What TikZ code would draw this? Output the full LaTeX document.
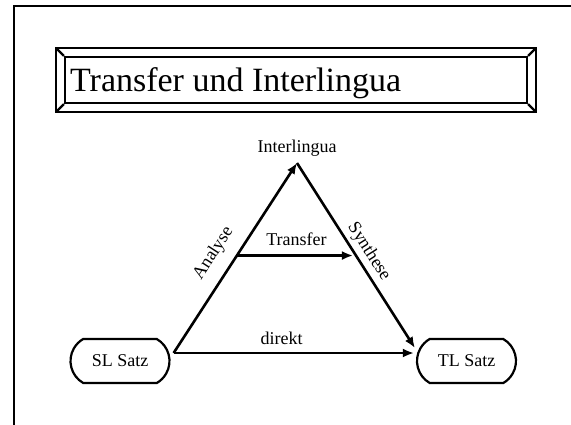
\documentclass[tikz,border=0pt]{standalone}
\usepackage{fontspec}
\setmainfont{Liberation Serif}
\usetikzlibrary{%
  arrows.meta,%
  shapes.misc,% wg. rounded rectangle
  positioning,%
  calc%
}

\begin{document}
\begin{tikzpicture}[
  x=1pt, y=-1pt, line width=2.2pt, >={Latex[length=11pt,width=9pt]}, draw=black,
  font=\fontsize{18}{20}\selectfont,
  satz/.style={rounded rectangle, rounded rectangle arc length=120, minimum width=99pt, minimum height=44pt, draw=black, inner sep=0pt},
  flow/.style={->, line width=2.6pt}
]
\useasboundingbox (0,0) rectangle (571,424);
\clip (0,0) rectangle (571,424);

% Rahmen
\draw (14,6) rectangle (620,480);

% Titel
\node[draw, minimum width=462pt, minimum height=46pt, inner sep=0pt] (inbox) at (296,80) {};
\draw ($(inbox.north west)+(-8,-8)$) rectangle ($(inbox.south east)+(8,8)$);
\foreach \c/\dx/\dy in {north west/-8/-8, north east/8/-8, south east/8/8, south west/-8/8} {
  \draw (inbox.\c) -- ++(\dx,\dy);
}
\node[anchor=base west, inner sep=0pt, font=\fontsize{34}{40}\selectfont] (title) at (69,91) {Transfer und Interlingua};

% Knoten
\node[satz] (sl) at (120,361) {SL Satz};
\node[satz] (tl) at (466.5,361) {TL Satz};
\node[anchor=base, inner sep=0pt] (il) at (297,152) {Interlingua};

\coordinate (top) at ([yshift=-6pt]il.south);
\coordinate (start) at ([xshift=3pt,yshift=8pt]sl.east);
\coordinate (tlend) at ([xshift=-1pt,yshift=13pt]tl.west);
\coordinate (dend) at ([xshift=-2pt,yshift=8pt]tl.west);

% Pfeile
\draw[flow] (start) -- node[pos=0.465, sloped, above=8pt] (analyse) {Analyse} (top);
\draw[flow] (top) -- node[pos=0.517, sloped, above=0pt] (synthese) {Synthese} (tlend);
\draw[flow] (start) -- node[pos=0.45, above=4pt] (direkt) {direkt} (dend);

\coordinate (tr1) at ($(start)!0.513!(top)$);
\coordinate (tr2) at ($(top)!0.5!(tlend)$);
\draw[flow, shorten >=3pt] (tr1) -- node[above=5pt] (transfer) {Transfer} (tr1 -| tr2);

\end{tikzpicture}
\end{document}
